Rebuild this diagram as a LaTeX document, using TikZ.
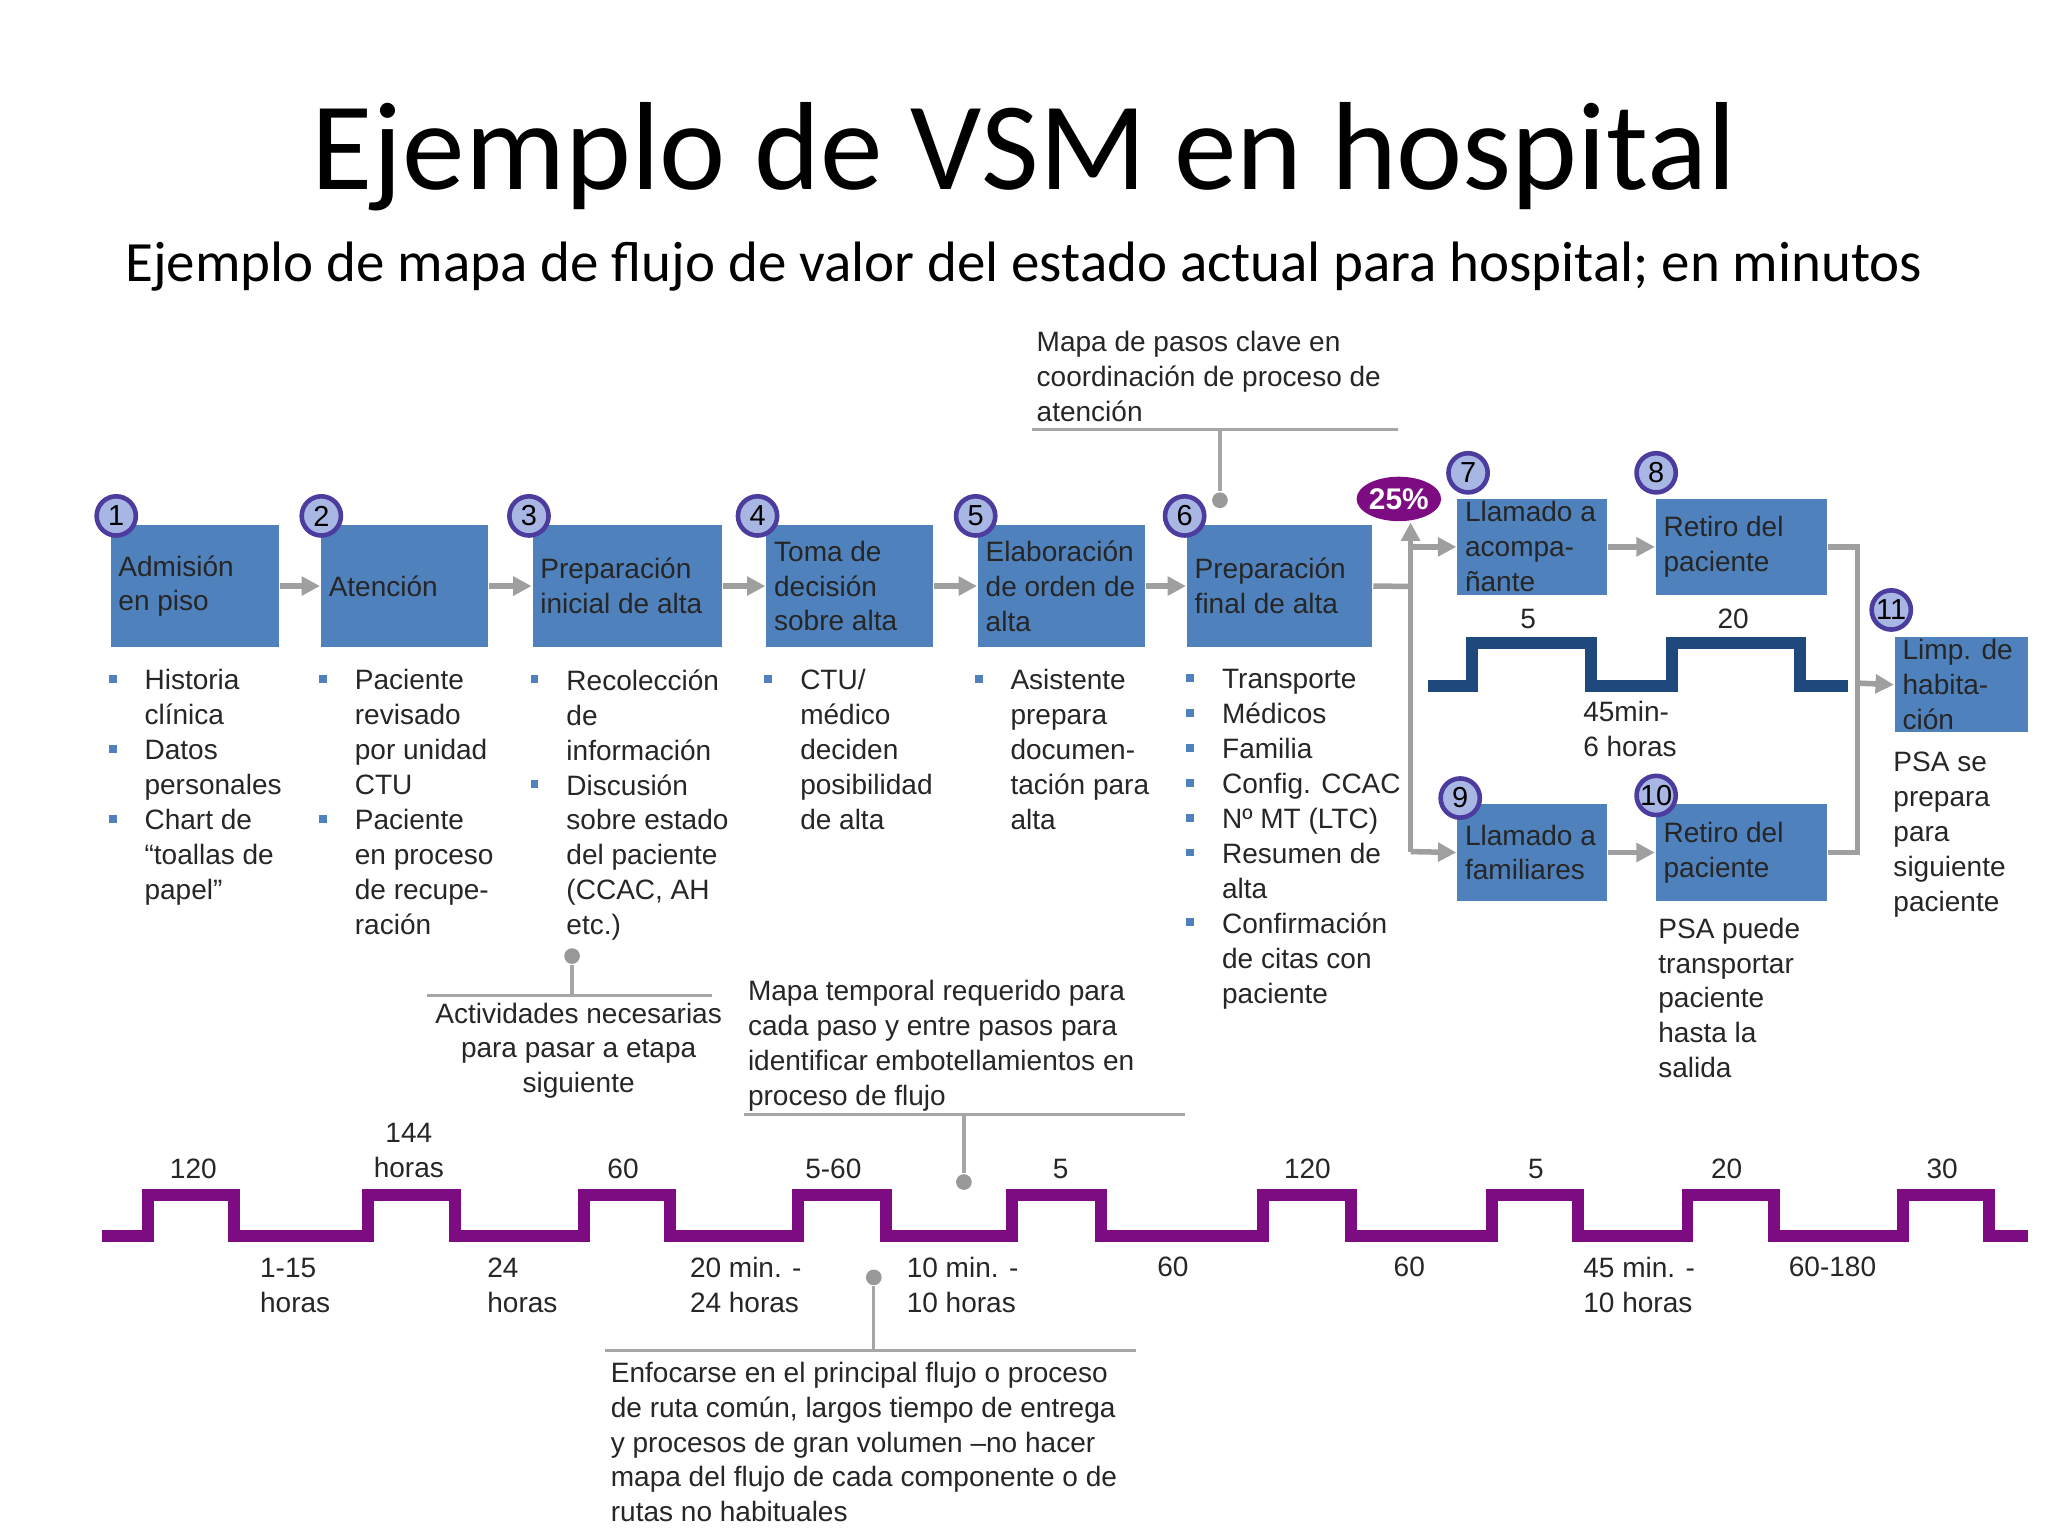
\documentclass[tikz,border=0pt]{standalone}
\usepackage{fontspec}
\setmainfont{Liberation Sans}
\newfontfamily\titlefont{Carlito}
\usetikzlibrary{arrows.meta,shapes.geometric}
\definecolor{boxblue}{HTML}{4F81BD}
\definecolor{circfill}{HTML}{A8B6E4}
\definecolor{circdraw}{HTML}{4B3C9E}
\definecolor{purp}{HTML}{7D0C82}
\definecolor{navy}{HTML}{1F497D}
\definecolor{bul}{HTML}{4F81BD}
\newcommand{\bu}{\llap{\textcolor{bul}{\rule[0.25em]{0.28em}{0.28em}}\hspace{1.0em}}}
\tikzset{
  x=0.01cm,y=-0.01cm,
  txt/.style={font=\fontsize{6.1}{7.6}\selectfont,inner sep=0pt,align=left,text=black!85},
  stepbox/.style={fill=boxblue,draw=none,anchor=north west,inner sep=0pt,txt,text=black!90},
  num/.style={circle,fill=circfill,draw=circdraw,line width=1pt,minimum size=0.3cm,inner sep=0pt,font=\fontsize{6.3}{7}\selectfont},
  conn/.style={draw=gray!75,line width=1.2pt,-{Triangle[length=4pt,width=4pt]}},
  plain/.style={draw=gray!75,line width=1.2pt},
  call/.style={draw=gray!70,line width=0.7pt},
  dot/.style={circle,fill=gray!80,inner sep=0pt,minimum size=0.12cm},
}
\newcommand{\stepnode}[6]{\node[stepbox,minimum width=#3*0.01cm,minimum height=#4*0.01cm] (#5) at (#1,#2) {};
  \node[txt,anchor=west] at ([xshift=0.06cm]#5.west) {#6};}
\begin{document}
\begin{tikzpicture}
\useasboundingbox (0,0) rectangle (1568,1176);
\node[font=\titlefont\fontsize{27.3}{30}\selectfont] (title) at (784,120) {Ejemplo de VSM en hospital};
\node[font=\titlefont\fontsize{12.4}{14}\selectfont] (sub) at (784,204) {Ejemplo de mapa de flujo de valor del estado actual para hospital; en minutos};

% boxes
\stepnode{84}{401}{129}{94}{b1}{Admisión\\en piso}
\stepnode{245}{401}{128}{94}{b2}{Atención}
\stepnode{407}{401}{145}{94}{b3}{Preparación\\inicial de alta}
\stepnode{586}{401}{128}{94}{b4}{Toma de\\decisión\\sobre alta}
\stepnode{748}{401}{128}{94}{b5}{Elaboración\\de orden de\\alta}
\stepnode{908}{401}{142}{94}{b6}{Preparación\\final de alta}
\stepnode{1115}{381}{115}{74}{b7}{Llamado a\\acompa-\\ñante}
\stepnode{1267}{381}{131}{74}{b8}{Retiro del\\paciente}
\stepnode{1115}{615}{115}{74}{b9}{Llamado a\\familiares}
\stepnode{1267}{615}{131}{74}{b10}{Retiro del\\paciente}
\stepnode{1450}{487}{102}{73}{b11}{Limp. de\\habita-\\ción}

% numbers
\node[num] (n1) at (89,395) {1};
\node[num] (n2) at (246,395) {2};
\node[num] (n3) at (405,395) {3};
\node[num] (n4) at (580,395) {4};
\node[num] (n5) at (747,395) {5};
\node[num] (n6) at (907,395) {6};
\node[num] (n7) at (1124,362) {7};
\node[num] (n8) at (1268,362) {8};
\node[num] (n9) at (1118,611) {9};
\node[num] (n10) at (1268,609) {10};
\node[num] (n11) at (1448,467) {11};

% connectors
\draw[conn] (b1) -- (b2);
\draw[conn] (b2) -- (b3);
\draw[conn] (b3) -- (b4);
\draw[conn] (b4) -- (b5);
\draw[conn] (b5) -- (b6);
\coordinate (br) at (1080,449);
\coordinate (brtop) at (1080,400);
\coordinate (brbot) at (1080,652);
\draw[plain] (b6.east) -- (br);
\draw[conn] (brbot) -- (brtop);
\draw[conn] (b7.west -| br) -- (b7.west);
\draw[conn] (brbot) -- (b9.west);
\draw[conn] (b7) -- (b8);
\draw[conn] (b9) -- (b10);
\coordinate (mg) at (1422,523);
\draw[plain] (b8.east) -| (mg);
\draw[plain] (b10.east) -| (mg);
\draw[conn] (mg) -- (b11.west);
\node[ellipse,fill=purp,minimum width=0.6cm,minimum height=0.34cm,inner sep=0pt,text=white,font=\bfseries\fontsize{6.5}{7}\selectfont] (pct) at (1071,382) {25\%};

% middle small timeline
\draw[navy,line width=2.6pt] (1093,525) -- (1127,525) -- (1127,492) -- (1218,492) -- (1218,525) -- (1280,525) -- (1280,492) -- (1378,492) -- (1378,525) -- (1415,525);
\node[txt] (m5) at (1170,474) {5};
\node[txt] (m20) at (1327,474) {20};
\node[txt] (m45) at (1248,558) {45min-\\6 horas};

% bullet lists
\node[txt,anchor=north west] (l1) at (110,512) {\bu Historia\\clínica\\\bu Datos\\personales\\\bu Chart de\\“toallas de\\papel”};
\node[txt,anchor=north west] (l2) at (271,512) {\bu Paciente\\revisado\\por unidad\\CTU\\\bu Paciente\\en proceso\\de recupe-\\ración};
\node[txt,anchor=north west] (l3) at (433,512) {\bu Recolección\\de\\información\\\bu Discusión\\sobre estado\\del paciente\\(CCAC, AH\\etc.)};
\node[txt,anchor=north west] (l4) at (612,512) {\bu CTU/\\médico\\deciden\\posibilidad\\de alta};
\node[txt,anchor=north west] (l5) at (773,512) {\bu Asistente\\prepara\\documen-\\tación para\\alta};
\node[txt,anchor=north west] (l6) at (935,512) {\bu Transporte\\\bu Médicos\\\bu Familia\\\bu Config. CCAC\\\bu Nº MT (LTC)\\\bu Resumen de\\alta\\\bu Confirmación\\de citas con\\paciente};
\node[txt,anchor=north west] (l11) at (1449,575) {PSA se\\prepara\\para\\siguiente\\paciente};
\node[txt,anchor=north west] (l10) at (1269,702) {PSA puede\\transportar\\paciente\\hasta la\\salida};

% callouts
\node[txt,anchor=north west] (c1) at (793,253) {Mapa de pasos clave en\\coordinación de proceso de\\atención};
\draw[call] (790,329) -- (1070,329);
\node[dot] (d1) at (934,383) {};
\draw[call] (934,329) -- (d1);

\node[txt,align=center,anchor=north] (c2) at (443,767) {Actividades necesarias\\para pasar a etapa\\siguiente};
\draw[call] (327,762) -- (545,762);
\node[dot] (d2) at (438,732) {};
\draw[call] (d2) -- (438,762);

\node[txt,anchor=north west] (c3) at (572,750) {Mapa temporal requerido para\\cada paso y entre pasos para\\identificar embotellamientos en\\proceso de flujo};
\draw[call] (570,853) -- (907,853);
\node[dot] (d3) at (738,905) {};
\draw[call] (738,853) -- (d3);

\node[dot] (d4) at (669,978) {};
\draw[call] (d4) -- (669,1034);
\draw[call] (463,1034) -- (870,1034);
\node[txt,anchor=north west] (c4) at (467,1042) {Enfocarse en el principal flujo o proceso\\de ruta común, largos tiempo de entrega\\y procesos de gran volumen --no hacer\\mapa del flujo de cada componente o de\\rutas no habituales};

% bottom timeline
\draw[purp,line width=2.6pt] (78,946)
 -- (113,946) -- (113,915) -- (179,915) -- (179,946)
 -- (282,946) -- (282,915) -- (348,915) -- (348,946)
 -- (447,946) -- (447,915) -- (513,915) -- (513,946)
 -- (611,946) -- (611,915) -- (678,915) -- (678,946)
 -- (775,946) -- (775,915) -- (843,915) -- (843,946)
 -- (967,946) -- (967,915) -- (1034,915) -- (1034,946)
 -- (1142,946) -- (1142,915) -- (1208,915) -- (1208,946)
 -- (1292,946) -- (1292,915) -- (1358,915) -- (1358,946)
 -- (1457,946) -- (1457,915) -- (1523,915) -- (1523,946) -- (1553,946);
\foreach \x/\t [count=\i] in {148/120,477/60,638/5-60,812/5,1001/120,1176/5,1322/20,1487/30}
  \node[txt] (u\i) at (\x,895) {\t};
\node[txt,align=center] (u144) at (313,881) {144\\horas};
\foreach \x/\t [count=\i] in {226/1-15\\horas,400/24\\horas,571/20 min. -\\24 horas,737/10 min. -\\10 horas,1255/45 min. -\\10 horas}
  \node[txt,align=left] (w\i) at (\x,984) {\t};
\foreach \x/\t [count=\i] in {898/60,1079/60,1403/60-180}
  \node[txt] (v\i) at (\x,970) {\t};
\end{tikzpicture}
\end{document}
